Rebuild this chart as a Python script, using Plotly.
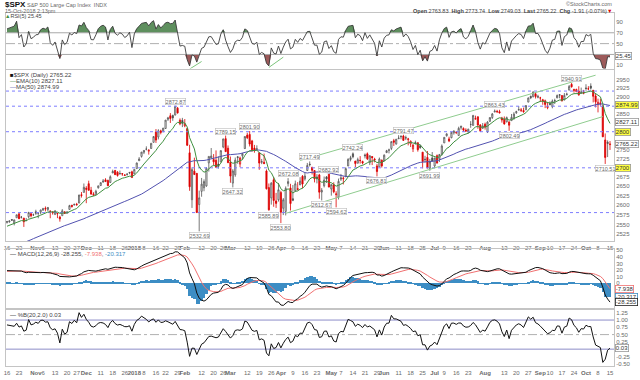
import numpy as np
import pandas as pd
import plotly.graph_objects as go
from plotly.subplots import make_subplots

# ---------------- data ----------------
# closes before the visible window (Aug 1 - Oct 13 2017), used for indicator warm-up
warmup_close = [2476.35, 2477.57, 2472.16, 2476.83, 2480.91, 2474.92, 2474.02, 2438.21, 2441.32, 2465.84,
                2464.61, 2468.11, 2430.01, 2425.55, 2428.37, 2452.51, 2444.04, 2438.97, 2443.05, 2444.24,
                2446.30, 2457.59, 2471.65,
                2476.55, 2457.85, 2465.54, 2465.10, 2461.43, 2488.11, 2496.48, 2498.37, 2495.62, 2500.23,
                2503.87, 2506.65, 2508.24, 2500.60, 2502.22, 2496.66, 2496.84, 2507.04, 2510.06, 2519.36,
                2529.12, 2534.58, 2537.74, 2552.07, 2549.33, 2544.73, 2550.64, 2555.24, 2550.93, 2553.17]

holidays = ["2017-11-23", "2017-12-25", "2018-01-01", "2018-01-15", "2018-02-19",
            "2018-03-30", "2018-05-28", "2018-07-04", "2018-09-03"]

opens = [
    2555.6, 2557.2, 2562.9, 2553.4, 2567.6, 2578.1, 2568.7, 2566.5, 2560.1, 2570.3, 2577.8, 2575.0,
    2583.2, 2579.5, 2581.9, 2587.5, 2592.1, 2588.7, 2584.0, 2580.2, 2576.5, 2577.8, 2569.4, 2572.9, 2582.9, 2579.5, 2589.2, 2600.3, 2600.4, 2602.7, 2605.9, 2627.8, 2633.9,
    2645.1, 2657.2, 2639.8, 2626.2, 2628.4, 2646.2, 2652.2, 2661.7, 2667.6, 2665.9, 2660.6, 2685.9, 2692.7, 2688.2, 2683.0, 2684.2, 2679.1, 2682.1, 2686.1, 2689.2,
    2683.7, 2697.9, 2719.3, 2731.3, 2742.7, 2751.2, 2745.6, 2753.0, 2770.2, 2799.0, 2785.0, 2802.4, 2802.6, 2809.2, 2835.1, 2845.4, 2846.2, 2847.5, 2867.2, 2832.7, 2832.4,
    2816.5, 2808.9, 2741.1, 2614.8, 2691.0, 2685.0, 2601.8, 2636.8, 2646.3, 2651.2, 2713.5, 2727.1, 2723.0, 2720.5, 2710.4, 2715.8, 2757.4, 2780.5, 2753.8,
    2715.2, 2658.9, 2681.1, 2730.2, 2710.2, 2732.8, 2752.9, 2790.5, 2792.3, 2774.1, 2754.3, 2750.6, 2741.4, 2715.1, 2715.0, 2691.4, 2646.7, 2619.4, 2667.6, 2611.3, 2614.4,
    2633.5, 2592.2, 2584.0, 2657.4, 2645.8, 2617.2, 2638.4, 2643.9, 2653.8, 2676.9, 2670.1, 2692.7, 2710.1, 2701.2, 2692.6, 2675.4, 2680.8, 2634.9, 2651.7, 2675.5, 2682.5,
    2643.0, 2654.2, 2628.1, 2621.5, 2669.4, 2670.3, 2678.1, 2705.0, 2722.7, 2738.3, 2718.6, 2712.6, 2719.7, 2717.4, 2735.4, 2738.3, 2714.0, 2730.9, 2723.6, 2705.1, 2702.4, 2721.0,
    2718.7, 2741.7, 2748.5, 2753.3, 2774.8, 2765.8, 2780.2, 2785.6, 2787.9, 2783.2, 2777.8, 2765.8, 2752.0, 2769.7, 2769.3, 2760.8, 2742.9, 2722.1, 2728.5, 2698.7, 2727.1,
    2705.0, 2733.3, 2724.2, 2737.7, 2768.5, 2788.6, 2779.8, 2783.1, 2796.9, 2797.4, 2789.3, 2811.4, 2809.4, 2804.6, 2799.2, 2820.7, 2817.7, 2835.5, 2842.4, 2819.0, 2809.7,
    2821.2, 2800.5, 2829.6, 2840.3, 2855.9, 2856.8, 2857.2, 2838.9, 2835.5, 2827.9, 2828.0, 2831.4, 2838.3, 2853.9, 2861.5, 2861.0, 2860.3, 2862.4, 2884.7, 2901.5, 2900.6, 2908.9, 2898.4,
    2897.0, 2891.6, 2888.6, 2868.3, 2881.4, 2871.6, 2888.3, 2896.9, 2906.4, 2903.8, 2890.7, 2906.6, 2919.7, 2936.8, 2921.8, 2921.8, 2917.0, 2911.7, 2910.0,
    2926.3, 2923.8, 2931.7, 2919.4, 2902.5, 2877.5, 2882.5, 2873.9, 2776.9, 2770.5, 2763.83]

highs = [
    2559.5, 2559.7, 2564.1, 2562.4, 2575.4, 2578.3, 2572.2, 2567.4, 2567.1, 2583.0, 2580.0, 2578.3,
    2588.4, 2581.1, 2588.4, 2593.4, 2597.0, 2595.5, 2586.5, 2583.8, 2587.7, 2579.7, 2572.8, 2590.1, 2584.0, 2584.6, 2601.2, 2600.9, 2604.2, 2606.4, 2627.7, 2634.9, 2657.7,
    2650.6, 2665.2, 2648.7, 2634.4, 2641.0, 2651.7, 2660.3, 2669.7, 2671.9, 2668.1, 2679.6, 2695.0, 2694.4, 2691.0, 2692.6, 2685.4, 2682.7, 2685.6, 2687.7, 2692.1,
    2695.9, 2714.4, 2729.3, 2743.5, 2748.5, 2759.1, 2750.8, 2767.6, 2787.9, 2807.5, 2807.0, 2805.8, 2810.3, 2833.0, 2842.2, 2853.0, 2848.6, 2872.87, 2870.6, 2837.8, 2839.3,
    2836.0, 2808.9, 2763.4, 2701.0, 2727.7, 2685.3, 2638.7, 2672.6, 2668.8, 2702.1, 2731.5, 2754.4, 2737.6, 2747.8, 2731.3, 2747.8, 2780.6, 2789.15, 2761.5,
    2730.9, 2696.3, 2728.1, 2732.1, 2730.6, 2740.5, 2786.6, 2797.0, 2801.90, 2777.1, 2763.0, 2761.9, 2741.4, 2724.2, 2739.1, 2695.7, 2657.7, 2661.4, 2674.8, 2632.7, 2659.1,
    2638.3, 2619.1, 2649.9, 2672.08, 2656.9, 2653.6, 2665.5, 2661.4, 2674.7, 2680.3, 2686.5, 2713.3, 2717.49, 2702.8, 2693.9, 2682.9, 2683.6, 2645.3, 2676.5, 2677.4, 2682.9,
    2655.3, 2660.9, 2637.1, 2670.9, 2683.4, 2676.3, 2701.3, 2726.1, 2732.9, 2742.24, 2718.6, 2727.8, 2732.0, 2719.5, 2739.2, 2742.1, 2733.3, 2732.0, 2727.4, 2710.7, 2728.1, 2722.5,
    2736.9, 2749.2, 2752.6, 2772.4, 2779.9, 2779.4, 2790.2, 2789.8, 2791.47, 2789.1, 2782.8, 2775.0, 2765.1, 2774.9, 2769.3, 2764.2, 2742.9, 2732.9, 2746.1, 2724.3, 2743.3,
    2727.3, 2736.6, 2737.8, 2764.4, 2784.7, 2795.6, 2785.9, 2799.2, 2804.5, 2801.2, 2814.2, 2816.8, 2812.1, 2809.7, 2808.6, 2830.0, 2848.0, 2845.6, 2843.2, 2821.7, 2824.5,
    2825.8, 2829.9, 2840.4, 2853.3, 2863.43, 2862.4, 2862.5, 2842.2, 2843.4, 2843.1, 2828.0, 2850.5, 2855.6, 2859.8, 2873.2, 2867.5, 2868.8, 2876.2, 2898.3, 2903.8, 2916.5, 2912.5, 2906.3,
    2900.2, 2894.2, 2892.1, 2883.8, 2886.9, 2892.5, 2894.7, 2906.8, 2908.3, 2904.7, 2911.2, 2912.4, 2934.8, 2940.91, 2923.8, 2924.0, 2931.2, 2927.2, 2920.5,
    2937.1, 2931.4, 2939.9, 2919.8, 2909.6, 2894.8, 2894.8, 2874.0, 2795.1, 2775.8, 2773.74]

lows = [
    2552.6, 2554.7, 2559.7, 2547.9, 2567.6, 2564.3, 2565.6, 2544.0, 2559.8, 2565.9, 2568.4, 2572.2,
    2574.9, 2566.2, 2576.8, 2585.7, 2584.1, 2585.0, 2566.3, 2575.6, 2574.5, 2566.6, 2557.5, 2572.9, 2577.6, 2578.2, 2589.2, 2593.9, 2600.4, 2598.9, 2605.4, 2620.3, 2633.9,
    2605.5, 2639.0, 2627.7, 2624.8, 2628.4, 2644.1, 2651.5, 2659.8, 2662.9, 2650.6, 2659.1, 2685.9, 2680.7, 2676.1, 2682.4, 2678.1, 2678.0, 2678.9, 2682.7, 2673.6,
    2682.4, 2697.8, 2719.1, 2727.9, 2737.6, 2747.9, 2736.1, 2752.8, 2769.6, 2768.6, 2778.4, 2792.6, 2798.1, 2808.1, 2830.6, 2824.8, 2830.9, 2846.2, 2851.5, 2818.3, 2813.0,
    2812.7, 2760.0, 2638.2, 2593.1, 2681.3, 2580.6, 2532.69, 2622.5, 2637.1, 2648.9, 2689.8, 2725.1, 2706.8, 2701.3, 2697.8, 2715.8, 2753.8, 2744.2, 2713.5,
    2659.7, 2647.32, 2675.8, 2711.3, 2701.7, 2722.7, 2751.5, 2779.3, 2758.7, 2744.4, 2741.5, 2750.0, 2694.6, 2710.1, 2709.8, 2641.6, 2585.89, 2601.8, 2596.1, 2593.1, 2609.7,
    2553.80, 2574.5, 2573.6, 2649.6, 2586.3, 2610.8, 2635.8, 2639.3, 2653.8, 2645.1, 2665.2, 2692.1, 2703.6, 2681.9, 2660.6, 2658.0, 2617.3, 2612.67, 2647.2, 2659.0, 2648.0,
    2625.4, 2631.7, 2594.62, 2615.3, 2664.7, 2655.2, 2674.1, 2704.5, 2717.5, 2725.9, 2701.9, 2712.2, 2711.4, 2709.2, 2725.7, 2721.3, 2707.4, 2707.4, 2715.0, 2676.81, 2702.4, 2700.7,
    2718.7, 2740.5, 2739.5, 2748.5, 2760.2, 2763.6, 2780.2, 2778.8, 2774.7, 2776.5, 2761.7, 2757.1, 2743.2, 2763.9, 2744.4, 2752.7, 2698.7, 2714.5, 2698.9, 2691.99, 2718.0,
    2699.0, 2711.2, 2716.0, 2733.5, 2768.5, 2786.2, 2770.8, 2781.5, 2791.7, 2793.4, 2789.2, 2805.9, 2799.8, 2800.0, 2795.1, 2811.1, 2817.7, 2834.4, 2808.3, 2799.1, 2808.1,
    2805.9, 2796.3, 2827.4, 2836.0, 2855.9, 2853.1, 2852.0, 2825.8, 2819.9, 2826.6, 2802.49, 2831.4, 2833.7, 2850.6, 2861.3, 2856.1, 2854.0, 2862.4, 2884.7, 2893.5, 2898.4, 2895.2, 2895.8,
    2885.1, 2876.9, 2867.3, 2864.1, 2875.9, 2866.8, 2879.2, 2896.4, 2895.8, 2886.2, 2890.4, 2903.8, 2919.7, 2927.1, 2912.6, 2913.7, 2903.3, 2909.3, 2907.5,
    2917.9, 2919.4, 2921.4, 2883.9, 2869.3, 2855.0, 2874.3, 2784.9, 2710.51, 2729.4, 2749.03]

closes = [
    2557.64, 2559.36, 2561.26, 2562.10, 2575.21, 2564.98, 2569.13, 2557.15, 2560.40, 2581.07, 2572.83, 2575.26,
    2579.36, 2579.85, 2587.84, 2591.13, 2590.64, 2594.38, 2584.62, 2582.30, 2584.84, 2578.87, 2564.62, 2585.64, 2578.85, 2582.14, 2599.03, 2597.08, 2602.42, 2601.42, 2627.04, 2626.07, 2647.58,
    2642.22, 2639.44, 2629.57, 2629.27, 2636.98, 2651.50, 2659.99, 2664.11, 2662.85, 2652.01, 2675.81, 2690.16, 2681.47, 2679.25, 2684.57, 2683.34, 2680.50, 2682.62, 2687.54, 2673.61,
    2695.81, 2713.06, 2723.99, 2743.15, 2747.71, 2751.29, 2748.23, 2767.56, 2786.24, 2776.42, 2802.56, 2798.03, 2810.30, 2832.97, 2839.13, 2837.54, 2839.25, 2872.87, 2853.53, 2822.43, 2823.81,
    2821.98, 2762.13, 2648.94, 2695.14, 2681.66, 2581.00, 2619.55, 2656.00, 2662.94, 2698.63, 2731.20, 2732.22, 2716.26, 2701.33, 2703.96, 2747.30, 2779.60, 2744.28, 2713.83,
    2677.67, 2691.25, 2720.94, 2728.12, 2726.80, 2738.97, 2786.57, 2783.02, 2765.31, 2749.48, 2747.33, 2752.01, 2712.92, 2716.94, 2711.93, 2643.69, 2588.26, 2658.55, 2612.62, 2605.00, 2640.87,
    2581.88, 2614.45, 2644.69, 2662.84, 2604.47, 2613.16, 2656.87, 2642.19, 2663.99, 2656.30, 2677.84, 2706.39, 2708.64, 2693.13, 2670.14, 2670.29, 2634.56, 2639.40, 2666.94, 2669.91, 2648.05,
    2654.80, 2635.67, 2629.73, 2663.42, 2672.63, 2671.92, 2697.79, 2723.07, 2727.72, 2730.13, 2711.45, 2722.46, 2720.13, 2712.97, 2733.01, 2724.44, 2733.29, 2727.76, 2721.33, 2689.86, 2724.01, 2705.27,
    2734.62, 2746.87, 2748.80, 2772.35, 2770.37, 2779.03, 2782.00, 2786.85, 2775.63, 2782.49, 2779.66, 2773.75, 2762.59, 2767.32, 2749.76, 2754.88, 2717.07, 2723.06, 2699.63, 2716.31, 2718.37,
    2726.71, 2713.22, 2736.61, 2759.82, 2784.17, 2793.84, 2774.02, 2798.29, 2801.31, 2798.43, 2809.55, 2815.62, 2804.49, 2801.83, 2806.98, 2820.40, 2846.07, 2837.44, 2818.82, 2802.60, 2816.29,
    2813.36, 2827.22, 2840.35, 2850.40, 2858.45, 2857.70, 2853.58, 2833.28, 2821.93, 2839.96, 2818.37, 2840.69, 2850.13, 2857.05, 2862.96, 2861.82, 2856.98, 2874.69, 2896.74, 2897.52, 2914.04, 2901.13, 2901.52,
    2896.72, 2888.60, 2878.05, 2871.68, 2877.13, 2887.89, 2888.92, 2904.18, 2904.98, 2888.80, 2904.31, 2907.95, 2930.75, 2929.67, 2919.37, 2915.56, 2905.97, 2914.00, 2913.98,
    2924.59, 2923.43, 2925.51, 2901.61, 2885.57, 2884.43, 2880.34, 2785.68, 2728.37, 2767.13, 2765.22]

# axis tick dates and labels
tick_dates = ["2017-10-16", "2017-10-23", "2017-11-01", "2017-11-06", "2017-11-13", "2017-11-20", "2017-11-27",
              "2017-12-01", "2017-12-11", "2017-12-18", "2017-12-26", "2018-01-02", "2018-01-08", "2018-01-16",
              "2018-01-22", "2018-01-29", "2018-02-01", "2018-02-12", "2018-02-20", "2018-02-26", "2018-03-01",
              "2018-03-12", "2018-03-19", "2018-03-26", "2018-04-02", "2018-04-09", "2018-04-16", "2018-04-23",
              "2018-05-01", "2018-05-07", "2018-05-14", "2018-05-21", "2018-05-29", "2018-06-01", "2018-06-11",
              "2018-06-18", "2018-06-25", "2018-07-02", "2018-07-09", "2018-07-16", "2018-07-23", "2018-08-01",
              "2018-08-13", "2018-08-20", "2018-08-27", "2018-09-04", "2018-09-10", "2018-09-17", "2018-09-24",
              "2018-10-01", "2018-10-08", "2018-10-15"]
tick_labels = ["16", "23", "<b>Nov</b>", "6", "13", "20", "27", "<b>Dec</b>", "11", "18", "26", "<b>2018</b>", "8",
               "16", "22", "29", "<b>Feb</b>", "12", "20", "26", "<b>Mar</b>", "12", "19", "26", "<b>Apr</b>", "9",
               "16", "23", "<b>May</b>", "7", "14", "21", "29", "<b>Jun</b>", "11", "18", "25", "<b>Jul</b>", "9",
               "16", "23", "<b>Aug</b>", "13", "20", "27", "<b>Sep</b>", "10", "17", "24", "<b>Oct</b>", "8", "15"]

# annotated highs / lows (date, text)
peak_labels = [("2018-01-26", "2872.87"), ("2018-02-27", "2789.15"), ("2018-03-13", "2801.90"),
               ("2018-04-05", "2672.08"), ("2018-04-18", "2717.49"), ("2018-04-30", "2682.92"),
               ("2018-05-14", "2742.24"), ("2018-06-13", "2791.47"), ("2018-08-07", "2863.43"),
               ("2018-09-21", "2940.91")]
trough_labels = [("2018-02-09", "2532.69"), ("2018-03-02", "2647.32"), ("2018-03-23", "2585.89"),
                 ("2018-04-02", "2553.80"), ("2018-04-25", "2612.67"), ("2018-05-03", "2594.62"),
                 ("2018-05-29", "2676.81"), ("2018-06-28", "2691.99"), ("2018-08-15", "2802.49"),
                 ("2018-10-11", "2710.51")]

# drawn horizontal levels and trend channel (date, price)
level_lines = [2917.0, 2872.87, 2800.0, 2700.0, 2581.0]
channel_lower = [("2018-04-04", 2579.0), ("2018-10-10", 2843.0)]
channel_upper = [("2018-04-12", 2720.0), ("2018-10-05", 2964.0)]
rsi_div_lines = [[("2018-02-05", 3.0), ("2018-02-12", 17.0)], [("2018-03-23", 6.0), ("2018-04-03", 25.0)]]

# ---------------- indicators ----------------
n = len(closes)
assert len(opens) == n and len(highs) == n and len(lows) == n, (len(opens), len(highs), len(lows), n)
dates = pd.bdate_range("2017-10-16", "2018-10-15", freq="C", holidays=holidays)
assert len(dates) == n, (len(dates), n)
date_idx = {d.strftime("%Y-%m-%d"): i for i, d in enumerate(dates)}

allc = pd.Series(warmup_close + closes)
ema10 = allc.ewm(span=10, adjust=False).mean().values[-n:]
ma50 = allc.rolling(50, min_periods=1).mean().values[-n:]
d = allc.diff()
up = d.clip(lower=0).ewm(alpha=1 / 5, adjust=False).mean()
dn = (-d.clip(upper=0)).ewm(alpha=1 / 5, adjust=False).mean()
rsi = (100 - 100 / (1 + up / dn)).values[-n:]
macd_all = allc.ewm(span=12, adjust=False).mean() - allc.ewm(span=26, adjust=False).mean()
sig_all = macd_all.ewm(span=9, adjust=False).mean()
macd = macd_all.values[-n:]
sig = sig_all.values[-n:]
hist = macd - sig
sma20 = allc.rolling(20).mean()
sd20 = allc.rolling(20).std(ddof=0)
pctb = ((allc - (sma20 - 2 * sd20)) / (4 * sd20)).values[-n:]

x = np.arange(n)
O, H, L, C = map(np.array, (opens, highs, lows, closes))
prevC = np.concatenate([[warmup_close[-1]], C[:-1]])

# ---------------- layout geometry ----------------
W, Hh = 640, 380
ml, mr, mt, mb = 4, 26, 13, 11
PW, PH = W - ml - mr, Hh - mt - mb
def py(p):
    return 1 - (p - mt) / PH
def px(p):
    return (p - ml) / PW

XR = [-0.42, 252.66]

fig = make_subplots(rows=4, cols=1, shared_xaxes=True, vertical_spacing=0.0)

FONT = "Liberation Sans"
GRAY = "#6a6a6a"

# ---- RSI panel ----
base70 = np.full(n, 70.0)
base30 = np.full(n, 30.0)
fig.add_trace(go.Scatter(x=x, y=base70, mode="lines", line=dict(width=0), hoverinfo="skip"), 1, 1)
fig.add_trace(go.Scatter(x=x, y=np.maximum(rsi, 70), mode="lines", line=dict(width=0),
                         fill="tonexty", fillcolor="#5e8f5e", hoverinfo="skip"), 1, 1)
fig.add_trace(go.Scatter(x=x, y=base30, mode="lines", line=dict(width=0), hoverinfo="skip"), 1, 1)
fig.add_trace(go.Scatter(x=x, y=np.minimum(rsi, 30), mode="lines", line=dict(width=0),
                         fill="tonexty", fillcolor="#9c5a5a", hoverinfo="skip"), 1, 1)
for lv, dash, col in [(70, "solid", "#a8a8a8"), (50, "dashdot", "#b0b0b0"), (30, "solid", "#a8a8a8")]:
    fig.add_trace(go.Scatter(x=XR, y=[lv, lv], mode="lines", line=dict(color=col, width=1, dash=dash),
                             hoverinfo="skip"), 1, 1)
fig.add_trace(go.Scatter(x=x, y=rsi, mode="lines", line=dict(color="#3a3a3a", width=0.9)), 1, 1)
for seg in rsi_div_lines:
    fig.add_trace(go.Scatter(x=[date_idx[s[0]] for s in seg], y=[s[1] for s in seg], mode="lines",
                             line=dict(color="#7cc47c", width=1), cliponaxis=False), 1, 1)

# ---- price panel ----
for lv in level_lines:
    fig.add_trace(go.Scatter(x=XR, y=[lv, lv], mode="lines",
                             line=dict(color="#7d7dff", width=1, dash="dot"), hoverinfo="skip"), 2, 1)
for ch in (channel_lower, channel_upper):
    fig.add_trace(go.Scatter(x=[date_idx[c[0]] for c in ch], y=[c[1] for c in ch], mode="lines",
                             line=dict(color="#8fcc8f", width=1)), 2, 1)
fig.add_trace(go.Scatter(x=x, y=ma50, mode="lines", line=dict(color="#5252b0", width=1)), 2, 1)
fig.add_trace(go.Scatter(x=x, y=ema10, mode="lines", line=dict(color="#3f8f3f", width=1)), 2, 1)

last = n - 1
groups = [
    ((C >= prevC), "#555555", "#222222"),   # black candles
    ((C < prevC), "#dd0000", "#dd0000"),    # red candles
]
for mask, linec, fillc in groups:
    m = mask.copy()
    m[last] = False
    fig.add_trace(go.Candlestick(
        x=x[m], open=O[m], high=H[m], low=L[m], close=C[m],
        increasing=dict(line=dict(color=linec, width=0.8), fillcolor="#ffffff"),
        decreasing=dict(line=dict(color=linec, width=0.8), fillcolor=fillc),
        whiskerwidth=0, hoverinfo="skip"), 2, 1)
fig.add_trace(go.Candlestick(
    x=[x[last]], open=[O[last]], high=[H[last]], low=[L[last]], close=[C[last]],
    increasing=dict(line=dict(color="#dd0000", width=0.8), fillcolor="#ffff00"),
    decreasing=dict(line=dict(color="#dd0000", width=0.8), fillcolor="#ffff00"),
    whiskerwidth=0, hoverinfo="skip"), 2, 1)

# ---- MACD panel ----
fig.add_trace(go.Bar(x=x, y=hist, marker=dict(color="#3c8dc4", line=dict(width=0)), width=1.0), 3, 1)
fig.add_trace(go.Scatter(x=x, y=sig, mode="lines", line=dict(color="#f07070", width=1)), 3, 1)
fig.add_trace(go.Scatter(x=x, y=macd, mode="lines", line=dict(color="#111111", width=1)), 3, 1)

# ---- %B panel ----
for lv, dash, col in [(1.0, "solid", "#8c8cc8"), (0.5, "dashdot", "#b0b0b0"), (0.0, "solid", "#8c8cc8")]:
    fig.add_trace(go.Scatter(x=XR, y=[lv, lv], mode="lines", line=dict(color=col, width=1, dash=dash),
                             hoverinfo="skip"), 4, 1)
fig.add_trace(go.Scatter(x=x, y=pctb, mode="lines", line=dict(color="#111111", width=1)), 4, 1)

# ---------------- axes ----------------
tickvals = [date_idx[t] for t in tick_dates]
doms = {1: (py(69), py(13)), 2: (py(243), py(70)), 3: (py(311), py(251)), 4: (py(369), py(313))}
axstyle = dict(showline=True, linecolor="#c4c4c4", linewidth=1, mirror=True, showgrid=False,
               zeroline=False, ticks="", tickfont=dict(family=FONT, size=6, color=GRAY))
for r in range(1, 5):
    xa = "xaxis" if r == 1 else f"xaxis{r}"
    ya = "yaxis" if r == 1 else f"yaxis{r}"
    fig.layout[xa].update(range=XR, tickvals=tickvals, ticktext=tick_labels, tickangle=0,
                          showticklabels=(r in (2, 4)), rangeslider=dict(visible=False), **axstyle)
    fig.layout[ya].update(domain=doms[r], side="right", **axstyle)
fig.layout.xaxis2.update(ticklabelstandoff=1)
fig.layout.xaxis4.update(ticklabelstandoff=1)

fig.layout.yaxis.update(range=[4, 106.5], tickvals=[10, 50, 70, 90])
price_ticks = [2525, 2550, 2575, 2600, 2625, 2650, 2675, 2725, 2750, 2850, 2900, 2925, 2950]
fig.layout.yaxis2.update(type="log", range=[np.log10(2508), np.log10(2981)], tickvals=price_ticks,
                         ticktext=[str(v) for v in price_ticks])
fig.layout.yaxis3.update(range=[-37.9, 51.9], tickvals=[0, 10, 20, 30, 40, 50])
fig.layout.yaxis4.update(range=[-0.58, 1.33], tickvals=[-0.5, -0.25, 0.25, 0.5, 0.75, 1.0, 1.25],
                         ticktext=["-0.50", "-0.25", "0.25", "0.50", "0.75", "1.00", "1.25"])

# ---------------- annotations ----------------
ann = []
def txt(xp, yp, s, size=6.5, color=GRAY, anchor="left", **kw):
    ann.append(dict(x=px(xp), y=py(yp), xref="paper", yref="paper", text=s, showarrow=False,
                    xanchor=anchor, yanchor="middle", font=dict(family=FONT, size=size, color=color), **kw))

txt(1, 4.5, "<b>$SPX</b>", size=8, color="#111111")
txt(23, 5, "S&P 500 Large Cap Index  INDX", size=5.5, color=GRAY)
txt(1, 10.5, "15-Oct-2018 2:13pm", size=5.5, color=GRAY)
txt(1, 16, "<span style='color:#3f8f3f'>▲</span>RSI(5) 25.45", size=5.5, color="#444444")
txt(614, 4, "©StockCharts.com", size=5.5, color=GRAY, anchor="right")
txt(614, 10.5, "<b>Open</b> 2763.83  <b>High</b> 2773.74  <b>Low</b> 2749.03  <b>Last</b> 2765.22  <b>Chg</b> -1.91 (-0.07%)"
    "<span style='color:#dd0000'>▼</span>", size=5.5, color="#444444", anchor="right")
txt(6, 76, "<span style='color:#111'>■</span>$SPX (Daily) 2765.22", size=6, color="#444444")
txt(6, 82, "<span style='color:#3f8f3f'>—</span>EMA(10) 2827.11", size=6, color="#444444")
txt(6, 88, "<span style='color:#5252b0'>—</span>MA(50) 2874.99", size=6, color="#444444")
txt(6, 256, "<span style='color:#111'>—</span> MACD(12,26,9) -28.255, <span style='color:#f07070'>-7.938</span>, "
    "<span style='color:#3c8dc4'>-20.317</span>", size=6, color="#444444")
txt(6, 318, "<span style='color:#111'>—</span> %B(20,2.0) 0.03", size=6, color="#444444")

# value tags for highs and lows
for dstr, s in peak_labels:
    i = date_idx[dstr]
    ann.append(dict(x=i, y=np.log10(H[i]), xref="x2", yref="y2", text=s, showarrow=False, yanchor="bottom",
                    yshift=1, font=dict(family=FONT, size=5.5, color=GRAY), bgcolor="white",
                    bordercolor="#bbbbbb", borderwidth=0.6, borderpad=0))
for dstr, s in trough_labels:
    i = date_idx[dstr]
    ann.append(dict(x=i, y=np.log10(L[i]), xref="x2", yref="y2", text=s, showarrow=False, yanchor="top",
                    yshift=-1, font=dict(family=FONT, size=5.5, color=GRAY), bgcolor="white",
                    bordercolor="#bbbbbb", borderwidth=0.6, borderpad=0))

# right-axis value boxes
def tag(yref, yval, s, bg="white", border="#999999", color="#333333"):
    ann.append(dict(x=1.0, y=yval, xref="paper", yref=yref, text=s, showarrow=False, xanchor="left",
                    xshift=1, font=dict(family=FONT, size=6, color=color), bgcolor=bg,
                    bordercolor=border, borderwidth=0.8, borderpad=0))

tag("y2", np.log10(2874.99), "2874.99", bg="#ffff40")
tag("y2", np.log10(2827.11), "2827.11")
tag("y2", np.log10(2800), "2800", bg="#ffff40")
tag("y2", np.log10(2765.22), "2765.22")
tag("y2", np.log10(2700), "2700", bg="#ffff40")
tag("y", 27.0, "25.45")
tag("y3", -7.938, "-7.938", border="#f07070")
tag("y3", -20.317, "-20.317", border="#3c8dc4")
tag("y3", -28.255, "-28.255", border="#222222")
tag("y4", 0.03, "0.03")

fig.update_layout(width=W, height=Hh, margin=dict(l=ml, r=mr, t=mt, b=mb), paper_bgcolor="white",
                  plot_bgcolor="white", showlegend=False, annotations=ann, bargap=0,
                  font=dict(family=FONT, size=6, color=GRAY))
fig.write_html("out.html", config={"displayModeBar": False},
               post_script="document.body.style.margin='0px';document.body.style.overflow='hidden';")
